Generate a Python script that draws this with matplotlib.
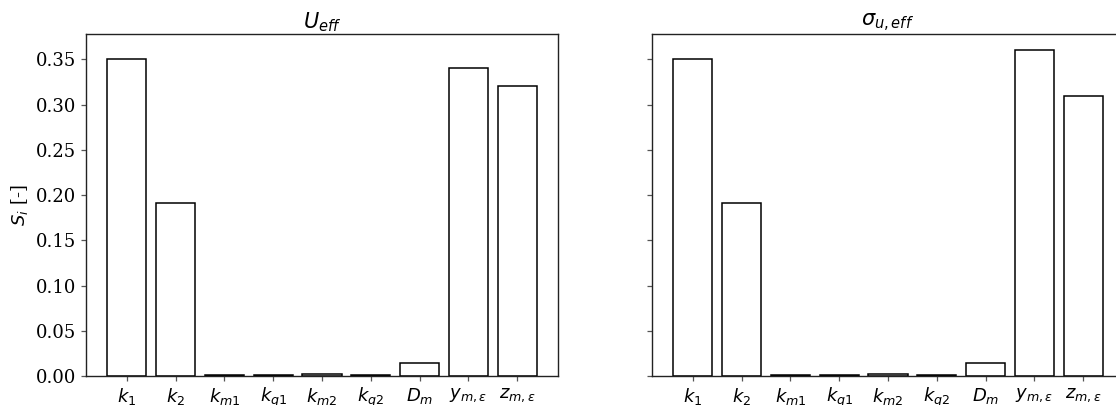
import matplotlib
matplotlib.use("Agg")
import matplotlib.pyplot as plt
import numpy as np

plt.rcParams["font.family"] = ["DejaVu Serif"]
plt.rcParams["mathtext.fontset"] = "dejavusans"

params = [r"$k_1$", r"$k_2$", r"$k_{m1}$", r"$k_{q1}$", r"$k_{m2}$",
          r"$k_{q2}$", r"$D_m$", r"$y_{m,\varepsilon}$", r"$z_{m,\varepsilon}$"]
s_u_eff = [0.35, 0.191, 0.0015, 0.0015, 0.0026, 0.0007, 0.014, 0.34, 0.32]
s_sigma_eff = [0.35, 0.191, 0.0015, 0.0015, 0.0026, 0.0007, 0.014, 0.36, 0.31]
titles = [r"$U_{eff}$", r"$\sigma_{u,eff}$"]
yticks = [0.00, 0.05, 0.10, 0.15, 0.20, 0.25, 0.30, 0.35]

W, H = 1116, 405
fig = plt.figure(figsize=(W / 100, H / 100), dpi=100)
ax1 = fig.add_axes([86 / W, 1 - 376 / H, 472 / W, 342 / H])
ax2 = fig.add_axes([652 / W, 1 - 376 / H, 472 / W, 342 / H], sharey=ax1)

x = np.arange(len(params))
for ax, vals, title in zip([ax1, ax2], [s_u_eff, s_sigma_eff], titles):
    ax.bar(x, vals, width=0.8, color="white", edgecolor="black", linewidth=1.1)
    ax.set_xticks(x)
    ax.set_xticklabels(params, fontsize=13)
    ax.set_title(title, fontsize=15, pad=4)
    ax.tick_params(axis="both", color="#555555", length=3.5, width=0.9, pad=3.5)
    for sp in ax.spines.values():
        sp.set_color("#222222")
        sp.set_linewidth(1.0)

ax1.set_ylim(0, 0.378)
ax1.set_yticks(yticks)
ax1.set_yticklabels([f"{t:.2f}" for t in yticks], fontsize=13)
ax1.set_ylabel(r"$S_i$ [-]", fontsize=13)
plt.setp(ax2.get_yticklabels(), visible=False)

fig.savefig("out.png", dpi=100)
